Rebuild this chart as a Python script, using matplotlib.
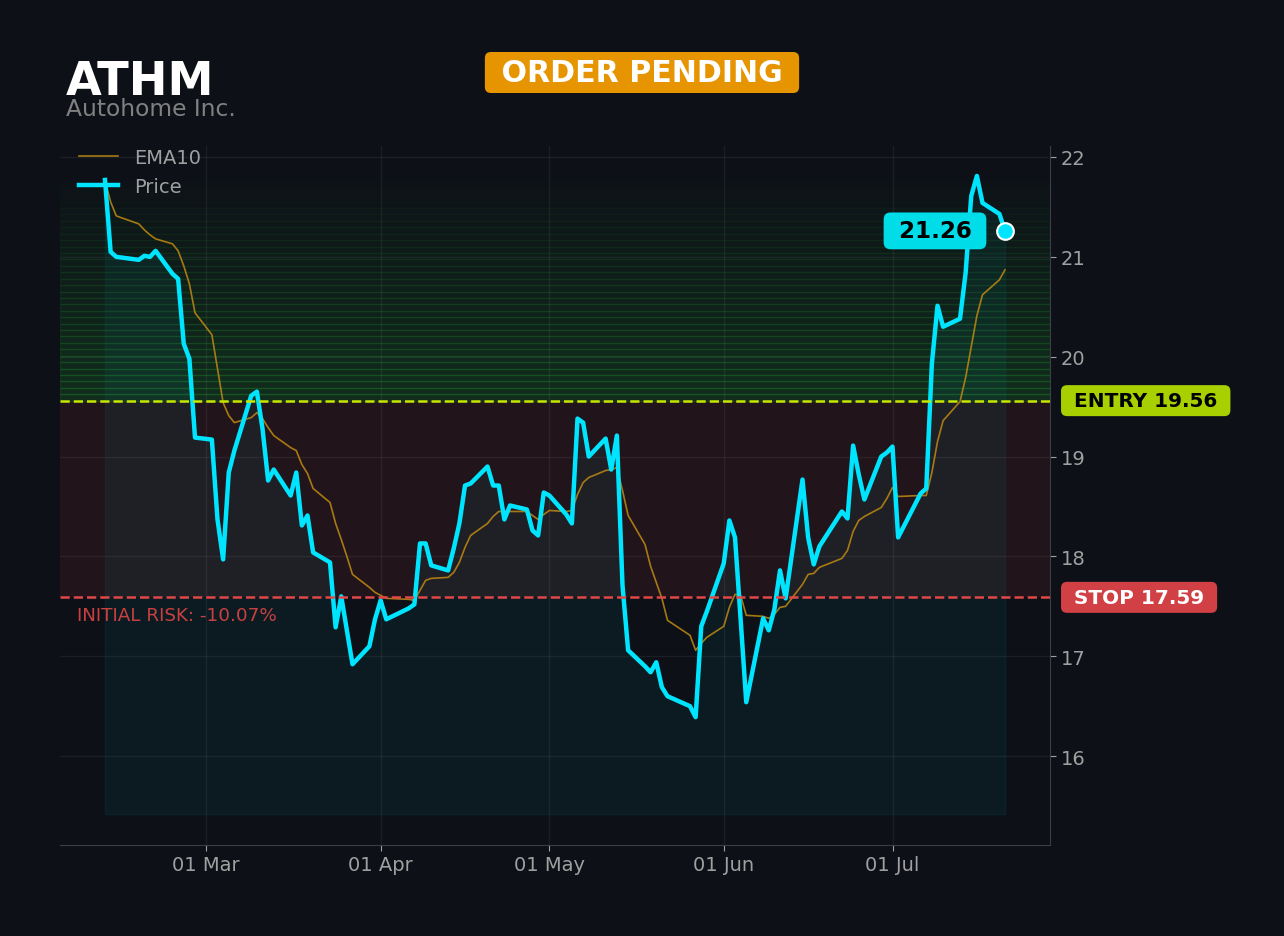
import matplotlib
matplotlib.use("Agg")
import matplotlib.pyplot as plt
import matplotlib.dates as mdates
import matplotlib.transforms as mtransforms
import numpy as np
import pandas as pd

# datos
ticker = "ATHM"
company = "Autohome Inc."
status = "ORDER PENDING"
entry_price = 19.56
stop_price = 17.59

dates = [
    "2026-02-11", "2026-02-12", "2026-02-13", "2026-02-17", "2026-02-18", "2026-02-19",
    "2026-02-20", "2026-02-23", "2026-02-24", "2026-02-25", "2026-02-26", "2026-02-27",
    "2026-03-02", "2026-03-03", "2026-03-04", "2026-03-05", "2026-03-06", "2026-03-09",
    "2026-03-10", "2026-03-11", "2026-03-12", "2026-03-13", "2026-03-16", "2026-03-17",
    "2026-03-18", "2026-03-19", "2026-03-20", "2026-03-23", "2026-03-24", "2026-03-25",
    "2026-03-26", "2026-03-27", "2026-03-30", "2026-03-31", "2026-04-01", "2026-04-02",
    "2026-04-06", "2026-04-07", "2026-04-08", "2026-04-09", "2026-04-10", "2026-04-13",
    "2026-04-14", "2026-04-15", "2026-04-16", "2026-04-17", "2026-04-20", "2026-04-21",
    "2026-04-22", "2026-04-23", "2026-04-24", "2026-04-27", "2026-04-28", "2026-04-29",
    "2026-04-30", "2026-05-01", "2026-05-04", "2026-05-05", "2026-05-06", "2026-05-07",
    "2026-05-08", "2026-05-11", "2026-05-12", "2026-05-13", "2026-05-14", "2026-05-15",
    "2026-05-18", "2026-05-19", "2026-05-20", "2026-05-21", "2026-05-22", "2026-05-26",
    "2026-05-27", "2026-05-28", "2026-05-29", "2026-06-01", "2026-06-02", "2026-06-03",
    "2026-06-04", "2026-06-05", "2026-06-08", "2026-06-09", "2026-06-10", "2026-06-11",
    "2026-06-12", "2026-06-15", "2026-06-16", "2026-06-17", "2026-06-18", "2026-06-22",
    "2026-06-23", "2026-06-24", "2026-06-25", "2026-06-26", "2026-06-29", "2026-06-30",
    "2026-07-01", "2026-07-02", "2026-07-06", "2026-07-07", "2026-07-08", "2026-07-09",
    "2026-07-10", "2026-07-13", "2026-07-14", "2026-07-15", "2026-07-16", "2026-07-17",
    "2026-07-20", "2026-07-21",
]

price = [
    21.77, 21.05, 21.00, 20.97, 21.01, 21.00,
    21.06, 20.83, 20.78, 20.13, 19.98, 19.19,
    19.17, 18.37, 17.97, 18.84, 19.06, 19.61,
    19.65, 19.28, 18.76, 18.87, 18.61, 18.84,
    18.31, 18.41, 18.04, 17.94, 17.29, 17.60,
    17.26, 16.92, 17.10, 17.37, 17.56, 17.37,
    17.48, 17.52, 18.13, 18.13, 17.91, 17.86,
    18.08, 18.33, 18.71, 18.73, 18.90, 18.71,
    18.71, 18.37, 18.51, 18.47, 18.26, 18.21,
    18.64, 18.61, 18.42, 18.33, 19.38, 19.34,
    19.00, 19.18, 18.87, 19.21, 17.71, 17.06,
    16.90, 16.84, 16.94, 16.69, 16.60, 16.50,
    16.39, 17.30, 17.45, 17.93, 18.36, 18.19,
    17.37, 16.54, 17.38, 17.26, 17.47, 17.86,
    17.58, 18.77, 18.19, 17.92, 18.10, 18.45,
    18.38, 19.11, 18.82, 18.57, 19.00, 19.04,
    19.10, 18.19, 18.63, 18.68, 19.93, 20.51,
    20.30, 20.38, 20.84, 21.61, 21.81, 21.54,
    21.43, 21.26,
]

ema10 = [
    21.77, 21.55, 21.41, 21.33, 21.27, 21.22,
    21.18, 21.13, 21.06, 20.91, 20.73, 20.44,
    20.22, 19.88, 19.54, 19.41, 19.34, 19.39,
    19.44, 19.38, 19.29, 19.21, 19.09, 19.06,
    18.92, 18.83, 18.68, 18.54, 18.33, 18.17,
    18.00, 17.82, 17.69, 17.64, 17.61, 17.58,
    17.57, 17.56, 17.66, 17.76, 17.78, 17.79,
    17.84, 17.94, 18.09, 18.21, 18.33, 18.40,
    18.45, 18.45, 18.45, 18.45, 18.41, 18.37,
    18.42, 18.46, 18.45, 18.46, 18.62, 18.74,
    18.79, 18.86, 18.87, 18.89, 18.66, 18.41,
    18.12, 17.90, 17.74, 17.58, 17.36, 17.21,
    17.06, 17.13, 17.19, 17.30, 17.49, 17.62,
    17.61, 17.41, 17.40, 17.38, 17.42, 17.49,
    17.50, 17.72, 17.82, 17.83, 17.89, 17.98,
    18.06, 18.25, 18.36, 18.40, 18.49, 18.58,
    18.69, 18.60, 18.61, 18.61, 18.84, 19.15,
    19.36, 19.55, 19.79, 20.10, 20.41, 20.62,
    20.77, 20.87,
]

# colores
bg = "#0d1117"
cyan = "#00e5ff"
grey = "#a0a0a0"
green = "#2ac83c"
red = "#ef4444"

x = pd.to_datetime(dates)
last_price = price[-1]
risk_pct = (stop_price - entry_price) / entry_price * 100

fig = plt.figure(figsize=(12.84, 9.37), dpi=100, facecolor=bg)
ax = fig.add_axes([60 / 1284, 1 - 846 / 937, 990 / 1284, 699 / 937])
ax.set_facecolor(bg)

ylo, yhi = 15.11, 22.11

# zona verde degradada (sobre la entrada, hasta el maximo)
n = 35
top = max(price)
h = (top - entry_price) / n
for i in range(n):
    lo = entry_price + i * h
    ax.axhspan(lo, lo + h, color=green, alpha=0.15 * (1 - i / n), lw=1, zorder=0)

# zona de riesgo
ax.axhspan(stop_price, entry_price, color=red, alpha=0.09, lw=0, zorder=0)

ax.fill_between(x, price, 15.42, color=cyan, alpha=0.05, lw=1, zorder=1)

ax.plot(x, ema10, color="#c08a12", lw=1.2, alpha=0.85, label="EMA10", zorder=3)
ax.plot(x, price, color=cyan, lw=3.2, label="Price", zorder=4)

ax.axhline(entry_price, color="#c8e600", ls="--", lw=1.8, zorder=5)
ax.axhline(stop_price, color="#e04848", ls="--", lw=1.8, zorder=5)

# ultimo precio
ax.plot(x[-1], last_price, "o", ms=12, color=cyan, mec="white", mew=1.5, zorder=6)
ax.annotate(f" {last_price:.2f} ", (x[-1], last_price), xytext=(-70, 0),
            textcoords="offset pixels", ha="center", va="center",
            fontsize=16.6, fontweight="bold", color="black",
            bbox=dict(boxstyle="round,pad=0.3", fc="#00dce8", ec="none"), zorder=7)

trans = mtransforms.blended_transform_factory(ax.transAxes, ax.transData)
ax.text(1.0172, entry_price, f" ENTRY {entry_price:.2f} ", transform=trans,
        ha="left", va="center", fontsize=14.4, fontweight="bold", color="black",
        bbox=dict(boxstyle="round,pad=0.3", fc="#a8d000", ec="none"), clip_on=False)
ax.text(1.0172, stop_price, f" STOP {stop_price:.2f} ", transform=trans,
        ha="left", va="center", fontsize=14.4, fontweight="bold", color="white",
        bbox=dict(boxstyle="round,pad=0.3", fc="#d04044", ec="none"), clip_on=False)
ax.text(0.017, 17.36, f"INITIAL RISK: {risk_pct:.2f}%", transform=trans,
        ha="left", va="baseline", fontsize=13.2, color="#c84040")

# ejes
span = x[-1] - x[0]
ax.set_xlim(x[0] - span * 0.05, x[-1] + span * 0.05)
ax.set_ylim(ylo, yhi)
ax.yaxis.tick_right()
ax.xaxis.set_major_locator(mdates.MonthLocator())
ax.xaxis.set_major_formatter(mdates.DateFormatter("%d %b"))
ax.tick_params(colors=grey, labelsize=14, length=4)
ax.grid(True, color="white", alpha=0.06, lw=1)
for s in ["left", "top"]:
    ax.spines[s].set_visible(False)
for s in ["bottom", "right"]:
    ax.spines[s].set_color("#3a3f47")

leg = ax.legend(loc="upper left", bbox_to_anchor=(0.002, 1.022), frameon=False,
                fontsize=14, labelcolor=grey)

# titulos
fig.text(66 / 1284, 1 - 95 / 937, ticker, fontsize=33.3, fontweight="bold",
         color="white", va="baseline")
fig.text(66 / 1284, 1 - 116 / 937, company, fontsize=16.8, color="#808080",
         va="baseline")
fig.text(0.5, 1 - 73.5 / 937, f" {status} ", ha="center", va="center",
         fontsize=21.6, fontweight="bold", color="white",
         bbox=dict(boxstyle="round,pad=0.2", fc="#e69500", ec="none"))

fig.savefig("out.png", dpi=100, facecolor=bg)
